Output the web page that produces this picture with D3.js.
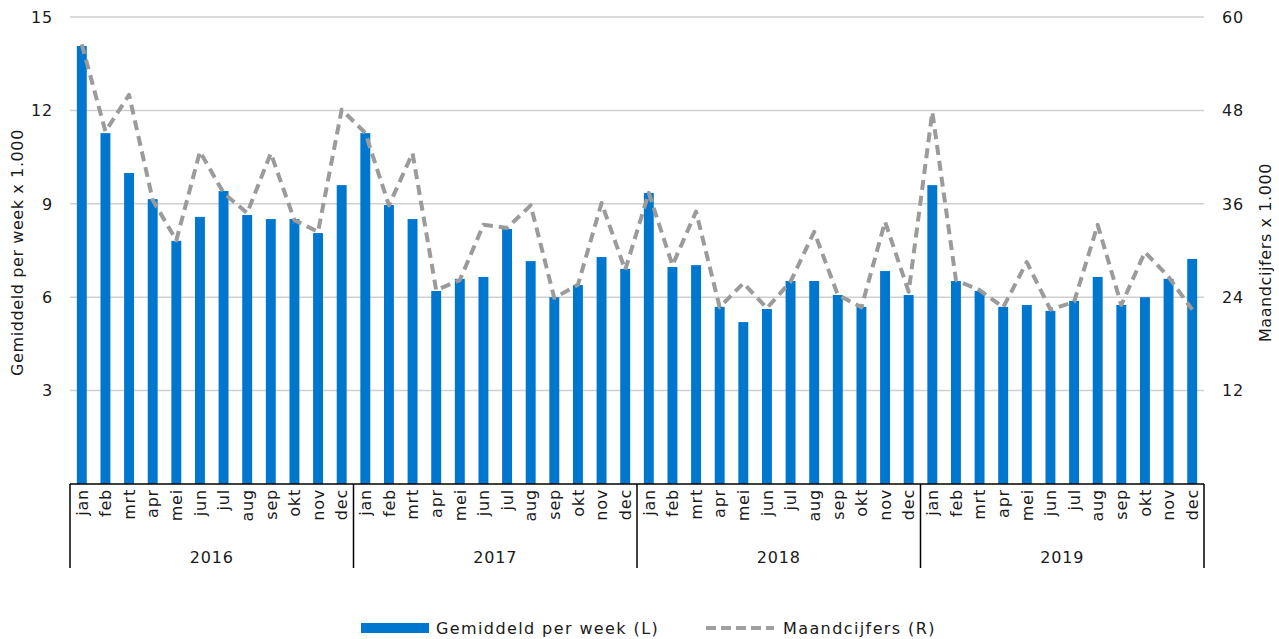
<!DOCTYPE html>
<html>
<head>
<meta charset="utf-8">
<script src="https://cdn.jsdelivr.net/npm/d3@7"></script>
<style>
  body { margin: 0; background: #fff; }
  svg text { font-family: "DejaVu Sans", Verdana, sans-serif; fill: #1a1a1a; }
</style>
</head>
<body>
<svg id="chart" width="1279" height="639"></svg>
<script>
const years = ["2016", "2017", "2018", "2019"];
const months = ["jan", "feb", "mrt", "apr", "mei", "jun", "jul", "aug", "sep", "okt", "nov", "dec"];

// gemiddeld per week x 1.000 (linker as)
const weekly = [
    14.07, 11.27, 9.99, 9.15, 7.81, 8.58, 9.41, 8.64, 8.51, 8.51, 8.06, 9.6,
    11.27, 8.96, 8.51, 6.2, 6.59, 6.65, 8.19, 7.16, 6.0, 6.39, 7.29, 6.91,
    9.35, 6.97, 7.03, 5.69, 5.2, 5.62, 6.52, 6.52, 6.07, 5.69, 6.84, 6.07,
    9.6, 6.52, 6.2, 5.69, 5.75, 5.56, 5.88, 6.65, 5.75, 6.0, 6.59, 7.23
];

// maandcijfers x 1.000 (rechter as)
const monthly = [
    56.5, 45.3, 50.0, 36.5, 31.3, 42.7, 37.4, 34.8, 42.5, 33.9, 32.4, 48.1,
    45.1, 35.8, 42.5, 24.9, 26.2, 33.3, 32.9, 35.8, 23.9, 25.6, 36.1, 27.5,
    37.4, 28.1, 35.0, 22.7, 25.8, 22.6, 26.0, 32.4, 24.3, 22.7, 33.7, 24.7,
    47.8, 26.2, 24.9, 22.7, 28.5, 22.4, 23.4, 33.3, 23.0, 29.8, 26.6, 22.4
];

const leftTicks = [3, 6, 9, 12, 15];
const rightTicks = [12, 24, 36, 48, 60];

const svg = d3.select("#chart");
const margin = { left: 70, right: 75, top: 17, bottom: 155 };
const W = 1279, H = 639;
const x0 = margin.left, x1 = W - margin.right;
const yTop = margin.top, yBot = H - margin.bottom;

const rows = [];
years.forEach(y => months.forEach(m => rows.push({ key: y + "-" + m, year: y, month: m })));
rows.forEach((r, i) => { r.weekly = weekly[i]; r.monthly = monthly[i]; });

const x = d3.scaleBand().domain(rows.map(d => d.key)).range([x0, x1]).paddingInner(0.58).paddingOuter(0.29);
const yL = d3.scaleLinear().domain([0, 15]).range([yBot, yTop]);
const yR = d3.scaleLinear().domain([0, 60]).range([yBot, yTop]);

// gridlines
svg.append("g")
    .selectAll("line")
    .data(leftTicks)
    .join("line")
    .attr("x1", x0).attr("x2", x1)
    .attr("y1", d => yL(d)).attr("y2", d => yL(d))
    .attr("stroke", "#d0d0d0")
    .attr("stroke-width", 1.5);

// bars
svg.append("g")
    .selectAll("rect")
    .data(rows)
    .join("rect")
    .attr("x", d => x(d.key))
    .attr("width", x.bandwidth())
    .attr("y", d => yL(d.weekly))
    .attr("height", d => yBot - yL(d.weekly))
    .attr("fill", "#0077cf");

// line
const line = d3.line()
    .x(d => x(d.key) + x.bandwidth() / 2)
    .y(d => yR(d.monthly));

svg.append("path")
    .datum(rows)
    .attr("d", line)
    .attr("fill", "none")
    .attr("stroke", "#9b9b9b")
    .attr("stroke-width", 4)
    .attr("stroke-dasharray", "10,6")
    .attr("stroke-linejoin", "round");

// left axis labels
svg.append("g")
    .selectAll("text")
    .data(leftTicks)
    .join("text")
    .attr("x", 53)
    .attr("y", d => yL(d))
    .attr("dy", "0.36em")
    .attr("text-anchor", "end")
    .style("font-size", "16px")
    .style("letter-spacing", "0.8px")
    .text(d => d);

// right axis labels
svg.append("g")
    .selectAll("text")
    .data(rightTicks)
    .join("text")
    .attr("x", 1222)
    .attr("y", d => yR(d))
    .attr("dy", "0.36em")
    .attr("text-anchor", "start")
    .style("font-size", "16px")
    .style("letter-spacing", "0.8px")
    .text(d => d);

// axis titles
svg.append("text")
    .attr("transform", `translate(23,${(yTop + yBot) / 2 + 2}) rotate(-90)`)
    .attr("text-anchor", "middle")
    .style("font-size", "16px")
    .style("letter-spacing", "0.6px")
    .text("Gemiddeld per week x 1.000");

svg.append("text")
    .attr("transform", `translate(1271,${(yTop + yBot) / 2 + 2}) rotate(-90)`)
    .attr("text-anchor", "middle")
    .style("font-size", "16px")
    .style("letter-spacing", "0.6px")
    .text("Maandcijfers x 1.000");

// category axis
const axisG = svg.append("g");
axisG.append("line")
    .attr("x1", x0).attr("x2", x1)
    .attr("y1", yBot).attr("y2", yBot)
    .attr("stroke", "#000").attr("stroke-width", 1.5);

const yearW = (x1 - x0) / years.length;
axisG.selectAll("line.sep")
    .data(d3.range(years.length + 1))
    .join("line")
    .attr("class", "sep")
    .attr("x1", i => x0 + i * yearW).attr("x2", i => x0 + i * yearW)
    .attr("y1", yBot).attr("y2", 568)
    .attr("stroke", "#000").attr("stroke-width", 1.5);

axisG.selectAll("text.month")
    .data(rows)
    .join("text")
    .attr("class", "month")
    .attr("transform", d => `translate(${x(d.key) + x.bandwidth() / 2},${yBot + 5}) rotate(-90)`)
    .attr("dy", "0.36em")
    .attr("text-anchor", "end")
    .style("font-size", "16px")
    .style("letter-spacing", "0.8px")
    .text(d => d.month);

axisG.selectAll("text.year")
    .data(years)
    .join("text")
    .attr("class", "year")
    .attr("x", (d, i) => x0 + (i + 0.5) * yearW)
    .attr("y", 563)
    .attr("text-anchor", "middle")
    .style("font-size", "16px")
    .style("letter-spacing", "0.8px")
    .text(d => d);

// legend
const lg = svg.append("g");
lg.append("rect")
    .attr("x", 361).attr("y", 623).attr("width", 68).attr("height", 10)
    .attr("fill", "#0077cf");
lg.append("text")
    .attr("x", 436).attr("y", 634)
    .style("font-size", "16px")
    .style("letter-spacing", "1.4px")
    .text("Gemiddeld per week (L)");
lg.append("line")
    .attr("x1", 706).attr("x2", 774)
    .attr("y1", 628).attr("y2", 628)
    .attr("stroke", "#a0a0a0")
    .attr("stroke-width", 4)
    .attr("stroke-dasharray", "10,5");
lg.append("text")
    .attr("x", 783).attr("y", 634)
    .style("font-size", "16px")
    .style("letter-spacing", "1.4px")
    .text("Maandcijfers (R)");
</script>
</body>
</html>
